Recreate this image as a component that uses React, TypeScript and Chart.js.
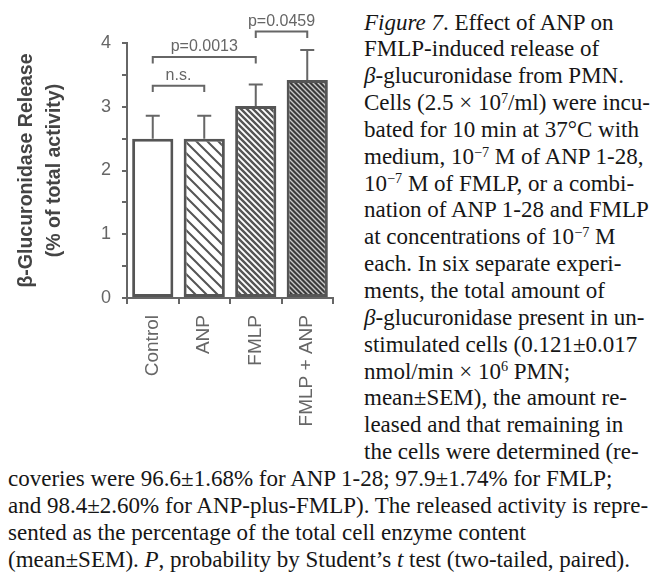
import React, { useEffect, useRef } from "react";
import { Chart, registerables } from "chart.js";

Chart.register(...registerables);

// ---- data ----
const categories = ["Control", "ANP", "FMLP", "FMLP + ANP"];
const releaseMean = [2.5, 2.5, 3.01, 3.42];
const releaseSEM = [0.36, 0.36, 0.34, 0.47];
const yTickValues = [0, 1, 2, 3, 4];
const bracketFrom = [0, 0, 2];
const bracketTo = [1, 2, 3];
const bracketLevel = [3.33, 3.78, 4.18];
const bracketLabels = ["n.s.", "p=0.0013", "p=0.0459"];
const yTitle = ["\u03B2-Glucuronidase Release", "(% of total activity)"];

type Seg = [string, string];
const captionRight: Seg[][] = [
  [["Figure 7", "i"], [". Effect of ANP on", ""]],
  [["FMLP-induced release of", ""]],
  [["\u03B2", "i"], ["-glucuronidase from PMN.", ""]],
  [["Cells (2.5 \u00D7 10", ""], ["7", "sup"], ["/ml) were incu-", ""]],
  [["bated for 10 min at 37\u00B0C with", ""]],
  [["medium, 10", ""], ["\u22127", "sup"], [" M of ANP 1-28,", ""]],
  [["10", ""], ["\u22127", "sup"], [" M of FMLP, or a combi-", ""]],
  [["nation of ANP 1-28 and FMLP", ""]],
  [["at concentrations of 10", ""], ["\u22127", "sup"], [" M", ""]],
  [["each. In six separate experi-", ""]],
  [["ments, the total amount of", ""]],
  [["\u03B2", "i"], ["-glucuronidase present in un-", ""]],
  [["stimulated cells (0.121\u00B10.017", ""]],
  [["nmol/min \u00D7 10", ""], ["6", "sup"], [" PMN;", ""]],
  [["mean\u00B1SEM), the amount re-", ""]],
  [["leased and that remaining in", ""]],
  [["the cells were determined (re-", ""]],
];
const captionFull: Seg[][] = [
  [["coveries were 96.6\u00B11.68% for ANP 1-28; 97.9\u00B11.74% for FMLP;", ""]],
  [["and 98.4\u00B12.60% for ANP-plus-FMLP). The released activity is repre-", ""]],
  [["sented as the percentage of the total cell enzyme content", ""]],
  [["(mean\u00B1SEM). ", ""], ["P", "i"], [", probability by Student\u2019s ", ""], ["t", "i"], [" test (two-tailed, paired).", ""]],
];

const CW = 345;
const CH = 450;
const GRAY = "#666";
const DARK = "#555";
const SANS = "'Liberation Sans', Arial, Helvetica, sans-serif";

function makeHatch(period: number, lineW: number, fg: string, bg: string) {
  const c = document.createElement("canvas");
  c.width = period;
  c.height = period;
  const g = c.getContext("2d")!;
  g.fillStyle = bg;
  g.fillRect(0, 0, period, period);
  g.strokeStyle = fg;
  g.lineWidth = lineW;
  g.beginPath();
  for (const o of [-period, 0, period]) {
    g.moveTo(o - 1, -1);
    g.lineTo(o + period + 1, period + 1);
  }
  g.stroke();
  return g.createPattern(c, "repeat")!;
}

const annotations = {
  id: "annotations",
  afterDatasetsDraw(chart: any) {
    const ctx = chart.ctx;
    const meta = chart.getDatasetMeta(0);
    const ys = chart.scales.y;
    ctx.save();
    ctx.strokeStyle = GRAY;
    ctx.lineWidth = 2;
    // error bars (upper only)
    releaseMean.forEach((m, i) => {
      const x = meta.data[i].x;
      const yb = ys.getPixelForValue(m);
      const yt = ys.getPixelForValue(m + releaseSEM[i]);
      ctx.beginPath();
      ctx.moveTo(x, yb);
      ctx.lineTo(x, yt);
      ctx.moveTo(x - 7, yt);
      ctx.lineTo(x + 7, yt);
      ctx.stroke();
    });
    // brackets
    ctx.fillStyle = GRAY;
    ctx.font = `16px ${SANS}`;
    ctx.textAlign = "center";
    ctx.textBaseline = "alphabetic";
    bracketLabels.forEach((lab, k) => {
      const x1 = meta.data[bracketFrom[k]].x;
      const x2 = meta.data[bracketTo[k]].x;
      const y = ys.getPixelForValue(bracketLevel[k]);
      const yl = ys.getPixelForValue(bracketLevel[k] - 0.1);
      ctx.beginPath();
      ctx.moveTo(x1, yl);
      ctx.lineTo(x1, y);
      ctx.lineTo(x2, y);
      ctx.lineTo(x2, yl);
      ctx.stroke();
      ctx.fillText(lab, (x1 + x2) / 2, y - 6);
    });
    ctx.restore();
  },
};

function Line({ segs, left, top, width }: { segs: Seg[]; left: number; top: number; width?: number }) {
  return (
    <div
      style={{
        position: "absolute",
        left,
        top,
        whiteSpace: "nowrap",
        height: 27,
        lineHeight: "27px",
        width,
      }}
    >
      {segs.map(([t, s], i) =>
        s === "i" ? (
          <i key={i}>{t}</i>
        ) : s === "sup" ? (
          <span key={i} style={{ fontSize: "0.62em", position: "relative", top: "-0.5em" }}>
            {t}
          </span>
        ) : (
          <span key={i}>{t}</span>
        )
      )}
    </div>
  );
}

export default function App() {
  const ref = useRef<HTMLCanvasElement>(null);
  useEffect(() => {
    const canvas = ref.current!;
    const pANP = makeHatch(11, 2, DARK, "#fff");
    const pFMLP = makeHatch(6, 2.4, DARK, "#fff");
    const pBoth = makeHatch(5, 1.4, "#c8c8c8", "#3a3a3a");
    const chart = new Chart(canvas, {
      type: "bar",
      data: {
        labels: categories,
        datasets: [
          {
            data: releaseMean,
            backgroundColor: ["#fff", pANP, pFMLP, pBoth],
            borderColor: DARK,
            borderWidth: 3,
            borderSkipped: false,
            barPercentage: 0.8,
            categoryPercentage: 1,
          },
        ],
      },
      options: {
        animation: false,
        responsive: false,
        maintainAspectRatio: false,
        layout: { padding: { top: 43, right: 12, left: 0, bottom: 0 } },
        plugins: { legend: { display: false }, tooltip: { enabled: false } },
        scales: {
          x: {
            grid: { offset: true, drawOnChartArea: false, drawTicks: true, tickLength: 6, color: GRAY, lineWidth: 2 },
            border: { display: true, color: GRAY, width: 2 },
            ticks: {
              maxRotation: 90,
              minRotation: 90,
              padding: 11,
              color: GRAY,
              font: { family: SANS, size: 19 },
            },
            afterFit: (s: any) => {
              s.height = CH - 298;
              s.paddingLeft = 0;
              s.paddingRight = 0;
            },
          },
          y: {
            min: 0,
            max: 4,
            ticks: {
              stepSize: 0.5,
              padding: 11,
              color: GRAY,
              font: { family: SANS, size: 18 },
              callback: (v: any) => (yTickValues.includes(Number(v)) ? String(v) : ""),
            },
            grid: { drawOnChartArea: false, drawTicks: true, tickLength: 5, color: GRAY, lineWidth: 2 },
            border: { display: true, color: GRAY, width: 2 },
            title: {
              display: true,
              text: yTitle,
              color: "#444",
              font: { family: SANS, size: 19.5, weight: "bold", lineHeight: 1.44 },
              padding: { top: 13, bottom: 0 },
            },
            afterFit: (s: any) => {
              s.width = 127;
            },
          },
        },
      },
      plugins: [annotations],
    } as any);
    return () => chart.destroy();
  }, []);

  const LH = 26.85;
  const top0 = 8.5;
  return (
    <div
      style={{
        position: "absolute",
        left: 0,
        top: 0,
        width: 666,
        height: 578,
        background: "#fff",
        overflow: "hidden",
        fontFamily: "'Liberation Serif', 'Times New Roman', serif",
        fontSize: 23,
        color: "#161616",
      }}
    >
      <canvas ref={ref} width={CW} height={CH} style={{ position: "absolute", left: 0, top: 0, width: CW, height: CH }} />
      {captionRight.map((segs, i) => (
        <Line key={"r" + i} segs={segs} left={364} top={top0 + i * LH} />
      ))}
      {captionFull.map((segs, i) => (
        <Line key={"f" + i} segs={segs} left={8} top={top0 + (captionRight.length + i) * LH} />
      ))}
    </div>
  );
}
